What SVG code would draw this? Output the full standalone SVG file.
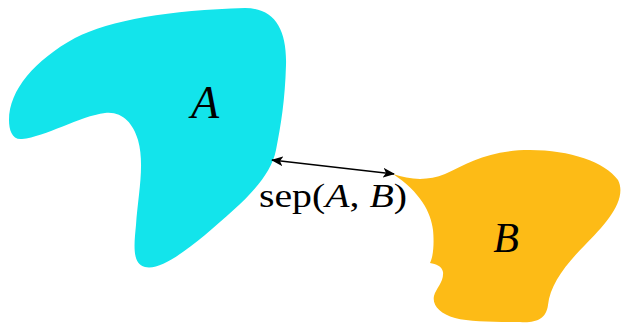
<svg xmlns="http://www.w3.org/2000/svg" width="623" height="323" viewBox="0 0 623 323">
<style>
.lbl{font-family:"Liberation Serif","DejaVu Serif",serif;fill:#000}
.it{font-style:italic}
</style>
<defs>
<marker id="ah" viewBox="0 0 12 10" refX="11" refY="5" markerWidth="12" markerHeight="10" markerUnits="userSpaceOnUse" orient="auto-start-reverse">
<path d="M0,0 L12,5 L0,10 L3,5 Z" fill="#000"/>
</marker>
</defs>
<g id="A">
<path fill="#13e4eb" d="M 9,120 C 9,90 35,60 75,38 C 110,20 170,10 245,8 C 275,8 287,30 286,65 C 285,100 281,125 276,150 C 270,180 240,205 205,235 C 180,255 160,270 145,267 C 132,264 134,245 136,225 C 138,195 145,165 138,140 C 133,123 122,111 105,113 C 80,116 45,137 22,139 C 12,140 9,130 9,120 Z"/>
<text class="lbl it" x="205" y="118" font-size="46" text-anchor="middle">A</text>
</g>
<g id="B">
<path fill="#fdbb16" d="M 393,174 C 410,180 428,181 445,174 C 468,163 490,150 530,150 C 570,150 605,162 618,180 C 628,200 605,225 585,245 C 565,265 550,285 548,305 C 546,320 535,323 520,322 C 495,322 470,322 455,318 C 440,314 432,305 434,296 C 436,288 444,282 443,272 C 442,266 436,264 430,263 C 434,255 434,240 433,230 C 431,212 420,192 393,174 Z"/>
<text class="lbl it" x="506" y="252" font-size="42" text-anchor="middle">B</text>
</g>
<g id="connectors">
<line x1="272" y1="160" x2="394" y2="174" stroke="#000" stroke-width="1.4" marker-start="url(#ah)" marker-end="url(#ah)"/>
<text class="lbl" x="259" y="207" font-size="33" textLength="148" lengthAdjust="spacingAndGlyphs">sep(<tspan class="it">A</tspan>, <tspan class="it">B</tspan>)</text>
</g>
</svg>
